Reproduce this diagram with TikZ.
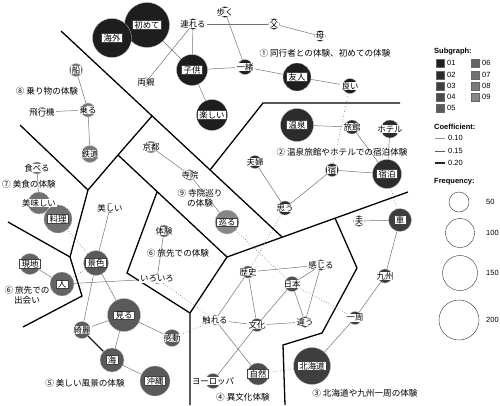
\documentclass[tikz,border=0pt]{standalone}
\usepackage{fontspec}
\setsansfont{Liberation Sans}
\newfontfamily\jp{Noto Sans CJK JP}
\usetikzlibrary{positioning}
\pgfdeclarelayer{bg}
\pgfsetlayers{bg,main}

\definecolor{g1}{HTML}{1E1E1E}
\definecolor{g2}{HTML}{2C2C2C}
\definecolor{g3}{HTML}{3E3E3E}
\definecolor{g4}{HTML}{4C4C4C}
\definecolor{g5}{HTML}{5A5A5A}
\definecolor{g6}{HTML}{646464}
\definecolor{g7}{HTML}{707070}
\definecolor{g8}{HTML}{7A7A7A}
\definecolor{g9}{HTML}{868686}

\tikzset{
  word/.style={circle, draw=gray!55, line width=0.3pt, inner sep=0pt},
  bigword/.style={word, label={[blabel]center:#1}},
  smallword/.style={word, label={[slabel]center:#1}},
  slabel/.style={fill=white, inner xsep=1.2pt, inner ysep=0.5pt, font=\jp\fontsize{8.4}{9}\selectfont},
  blabel/.style={slabel, draw=black!75, line width=0.3pt, inner xsep=2pt},
  link/.style={draw=black!55, line width=0.5pt},
  strong/.style={draw=black!90, line width=1.1pt},
  cross/.style={draw=black!55, line width=0.6pt, dotted},
  border/.style={line width=1.3pt, line join=miter},
  group/.style={font=\jp\fontsize{8.6}{10}\selectfont, align=center, inner sep=0pt},
  legtitle/.style={font=\sffamily\bfseries\fontsize{7.5}{8}\selectfont, anchor=west, inner sep=0pt},
  legtext/.style={font=\sffamily\fontsize{7.5}{8}\selectfont, anchor=west, inner sep=0pt},
  swatch/.style={draw=black!60, line width=0.3pt, minimum size=7.5, inner sep=0pt},
  freq/.style={circle, draw=black!80, line width=0.4pt, inner sep=0pt},
}

\begin{document}
\begin{tikzpicture}[x=1pt, y=-1pt]
\useasboundingbox (0,0) rectangle (500,405);

% subgraph 01
\node[bigword=初めて, fill=g1, minimum size=45] (hajimete) at (147,25) {};
\node[bigword=海外, fill=g1, minimum size=39] (kaigai) at (112,38) {};
\node[smallword=連れる, fill=g1, minimum size=11] (tsureru) at (193,24) {};
\node[smallword=歩く, fill=g1, minimum size=11] (aruku) at (225,12) {};
\node[smallword=父, fill=g1, minimum size=11] (chichi) at (274,24) {};
\node[smallword=母, fill=g1, minimum size=11] (haha) at (320,36) {};
\node[smallword=両親, fill=g1, minimum size=9] (ryoshin) at (146,82) {};
\node[bigword=子供, fill=g1, minimum size=31] (kodomo) at (192,70) {};
\node[smallword=一緒, fill=g1, minimum size=15] (issho) at (245,67) {};
\node[bigword=友人, fill=g1, minimum size=28] (yujin) at (297,77) {};
\node[bigword=楽しい, fill=g1, minimum size=31] (tanoshii) at (212,115) {};
\node[smallword=良い, fill=g1, minimum size=15] (yoi) at (350,86) {};

% subgraph 02
\node[bigword=温泉, fill=g2, minimum size=33] (onsen) at (297,125) {};
\node[smallword=旅館, fill=g2, minimum size=14] (ryokan) at (352,127) {};
\node[smallword=ホテル, fill=g2, minimum size=18] (hoteru) at (390,129) {};
\node[smallword=宿, fill=g2, minimum size=13] (yado) at (332,170) {};
\node[bigword=宿泊, fill=g2, minimum size=29] (shukuhaku) at (387,174) {};
\node[smallword=夫婦, fill=g2, minimum size=13] (fufu) at (255,162) {};
\node[smallword=思う, fill=g2, minimum size=14] (omou) at (285,208) {};

% subgraph 03
\node[bigword=車, fill=g3, minimum size=23] (kuruma) at (400,220) {};
\node[smallword=夫, fill=g3, minimum size=11] (otto) at (359,221) {};
\node[smallword=九州, fill=g3, minimum size=14] (kyushu) at (385,276) {};
\node[smallword=一周, fill=g3, minimum size=13] (isshu) at (355,318) {};
\node[bigword=北海道, fill=g3, minimum size=37] (hokkaido) at (312,366) {};

% subgraph 04
\node[smallword=歴史, fill=g4, minimum size=12] (rekishi) at (248,272) {};
\node[smallword=感じる, fill=g4, minimum size=11] (kanjiru) at (321,265) {};
\node[smallword=日本, fill=g4, minimum size=15] (nihon) at (292,284) {};
\node[smallword=触れる, fill=g4, minimum size=10] (fureru) at (215,320) {};
\node[smallword=文化, fill=g4, minimum size=13] (bunka) at (257,325) {};
\node[smallword=違う, fill=g4, minimum size=11] (chigau) at (305,322) {};
\node[smallword=ヨーロッパ, fill=g4, minimum size=15] (yoroppa) at (213,381) {};
\node[bigword=自然, fill=g4, minimum size=22] (shizen) at (258,374) {};

% subgraph 05
\node[smallword=美しい, fill=g5, minimum size=10] (utsukushii) at (110,208) {};
\node[bigword=景色, fill=g5, minimum size=25] (keshiki) at (96,263) {};
\node[bigword=見る, fill=g5, minimum size=33] (miru) at (124,315) {};
\node[smallword=綺麗, fill=g5, minimum size=17] (kirei) at (82,330) {};
\node[bigword=海, fill=g5, minimum size=24] (umi) at (112,360) {};
\node[bigword=沖縄, fill=g5, minimum size=30] (okinawa) at (155,381) {};
\node[smallword=感動, fill=g5, minimum size=17] (kando) at (172,338) {};

% subgraph 06
\node[smallword=体験, fill=g6, minimum size=12] (taiken) at (164,231) {};
\node[smallword=いろいろ, fill=g6, minimum size=10] (iroiro) at (157,279) {};
\node[bigword=現地, fill=g6, minimum size=21] (genchi) at (30,264) {};
\node[bigword=人, fill=g6, minimum size=24] (hito) at (62,284) {};

% subgraph 07
\node[bigword=料理, fill=g7, minimum size=28] (ryori) at (58,219) {};
\node[smallword=美味しい, fill=g7, minimum size=22] (oishii) at (39,203) {};
\node[smallword=食べる, fill=g7, minimum size=12] (taberu) at (37,168) {};

% subgraph 08
\node[smallword=船, fill=g8, minimum size=13] (fune) at (76,70) {};
\node[smallword=飛行機, fill=g8, minimum size=10] (hikoki) at (42,112) {};
\node[smallword=乗る, fill=g8, minimum size=14] (noru) at (88,110) {};
\node[smallword=鉄道, fill=g8, minimum size=17] (tetsudo) at (90,154) {};

% subgraph 09
\node[smallword=京都, fill=g9, minimum size=12] (kyoto) at (151,147) {};
\node[smallword=寺院, fill=g9, minimum size=11] (jiin) at (190,175) {};
\node[bigword=巡る, fill=g9, minimum size=24] (meguru) at (227,222) {};

% group captions
\node[group] (cap1) at (325,53) {① 同行者との体験、初めての体験};
\node[group] (cap2) at (342,152) {② 温泉旅館やホテルでの宿泊体験};
\node[group] (cap3) at (365,393) {③ 北海道や九州一周の体験};
\node[group] (cap4) at (243,397) {④ 異文化体験};
\node[group] (cap5) at (85,383) {⑤ 美しい風景の体験};
\node[group] (cap6) at (178,253) {⑥ 旅先での体験};
\node[group] (cap6b) at (27,295) {⑥ 旅先での\\出会い};
\node[group] (cap7) at (29,184) {⑦ 美食の体験};
\node[group] (cap8) at (47,91) {⑧ 乗り物の体験};
\node[group] (cap9) at (200,198) {⑨ 寺院巡り\\の体験};

\begin{pgfonlayer}{bg}
% region borders
\draw[border] (61,31) -- (282,237);
\draw[border] (210,170) -- (263,103) -- (400,103);
\draw[border] (20,125) -- (88,190) -- (70,257) -- (82,296) -- (23,327);
\draw[border] (152,116) -- (118,155) -- (88,190);
\draw[border] (118,155) -- (227,257) -- (408,192);
\draw[border] (8,222) -- (70,257);
\draw[border] (157,192) -- (127,273) -- (190,313);
\draw[border] (227,257) -- (190,313) -- (190,405);
\draw[border] (335,218) -- (357,268) -- (322,333) -- (283,345) -- (285,405);

% links inside subgraphs
\draw[link] (hajimete) -- (kodomo);
\draw[link] (ryoshin) -- (tsureru);
\draw[link] (tsureru) -- (kodomo);
\draw[link] (tsureru) -- (chichi);
\draw[link] (chichi) -- (haha);
\draw[link] (aruku) -- (issho);
\draw[link] (kodomo) -- (issho);
\draw[link] (issho) -- (yujin);
\draw[link] (yujin) -- (yoi);
\draw[link] (kodomo) -- (tanoshii);
\draw[link] (onsen) -- (ryokan);
\draw[link] (ryokan) -- (shukuhaku);
\draw[link] (hoteru) -- (shukuhaku);
\draw[link] (yado) -- (shukuhaku);
\draw[link] (yado) -- (omou);
\draw[link] (fufu) -- (omou);
\draw[link] (otto) -- (kuruma);
\draw[link] (kuruma) -- (kyushu);
\draw[link] (kyushu) -- (isshu);
\draw[link] (isshu) -- (hokkaido);
\draw[link] (rekishi) -- (kanjiru);
\draw[link] (rekishi) -- (fureru);
\draw[link] (rekishi) -- (bunka);
\draw[link] (kanjiru) -- (nihon);
\draw[link] (kanjiru) -- (chigau);
\draw[link] (nihon) -- (chigau);
\draw[link] (nihon) -- (bunka);
\draw[link] (fureru) -- (bunka);
\draw[link] (bunka) -- (chigau);
\draw[link] (fureru) -- (shizen);
\draw[link] (bunka) -- (yoroppa);
\draw[link] (utsukushii) -- (keshiki);
\draw[link] (keshiki) -- (miru);
\draw[link] (keshiki) -- (kirei);
\draw[link] (miru) -- (kirei);
\draw[link] (miru) -- (umi);
\draw[link] (miru) -- (kando);
\draw[strong] (kirei) -- (umi);
\draw[link] (umi) -- (okinawa);
\draw[link] (taiken) -- (iroiro);
\draw[link] (genchi) -- (hito);
\draw[link] (hito) -- (iroiro);
\draw[link] (taberu) -- (oishii);
\draw[link] (oishii) -- (ryori);
\draw[link] (fune) -- (noru);
\draw[link] (hikoki) -- (noru);
\draw[link] (noru) -- (tetsudo);
\draw[link] (kyoto) -- (jiin);
\draw[link] (jiin) -- (meguru);

% links between subgraphs
\draw[cross] (yoi) -- (yado);
\draw[cross] (shukuhaku) -- (kuruma);
\draw[cross] (omou) -- (rekishi);
\draw[cross] (meguru) -- (nihon);
\draw[cross] (iroiro) -- (fureru);
\draw[cross] (fureru) -- (kando);
\draw[cross] (hokkaido) -- (shizen);
\draw[cross] (nihon) -- (isshu);
\draw[cross] (keshiki) -- (ryori);
\draw[cross] (keshiki) -- (hito);
\end{pgfonlayer}

% legend: subgraph
\node[legtitle] (subtitle) at (434,52) {Subgraph:};
\node[swatch, fill=g1, label={[legtext, label distance=3pt]right:01}] (sw1) at (440,63) {};
\node[swatch, fill=g2, label={[legtext, label distance=3pt]right:02}] (sw2) at (440,75) {};
\node[swatch, fill=g3, label={[legtext, label distance=3pt]right:03}] (sw3) at (440,86) {};
\node[swatch, fill=g4, label={[legtext, label distance=3pt]right:04}] (sw4) at (440,97) {};
\node[swatch, fill=g5, label={[legtext, label distance=3pt]right:05}] (sw5) at (440,108) {};
\node[swatch, fill=g6, label={[legtext, label distance=3pt]right:06}] (sw6) at (475,63) {};
\node[swatch, fill=g7, label={[legtext, label distance=3pt]right:07}] (sw7) at (475,75) {};
\node[swatch, fill=g8, label={[legtext, label distance=3pt]right:08}] (sw8) at (475,86) {};
\node[swatch, fill=g9, label={[legtext, label distance=3pt]right:09}] (sw9) at (475,97) {};

% legend: coefficient
\node[legtitle] (coeftitle) at (434,127) {Coefficient:};
\node[legtext] (c10) at (448,138) {0.10};
\node[legtext] (c15) at (448,151) {0.15};
\node[legtext] (c20) at (448,163) {0.20};
\draw[draw=black!45, line width=0.5pt] ([xshift=-13pt]c10.west) -- ([xshift=-3pt]c10.west);
\draw[draw=black!65, line width=0.9pt] ([xshift=-13pt]c15.west) -- ([xshift=-3pt]c15.west);
\draw[draw=black!85, line width=1.2pt] ([xshift=-13pt]c20.west) -- ([xshift=-3pt]c20.west);

% legend: frequency
\node[legtitle] (freqtitle) at (434,182) {Frequency:};
\node[freq, minimum size=20] (f50) at (459,202) {};
\node[freq, minimum size=29] (f100) at (460,233) {};
\node[freq, minimum size=35] (f150) at (460,273) {};
\node[freq, minimum size=40] (f200) at (459,320) {};
\node[legtext] (l50) at (486,202) {50};
\node[legtext] (l100) at (486,233) {100};
\node[legtext] (l150) at (486,273) {150};
\node[legtext] (l200) at (486,320) {200};
\end{tikzpicture}
\end{document}
